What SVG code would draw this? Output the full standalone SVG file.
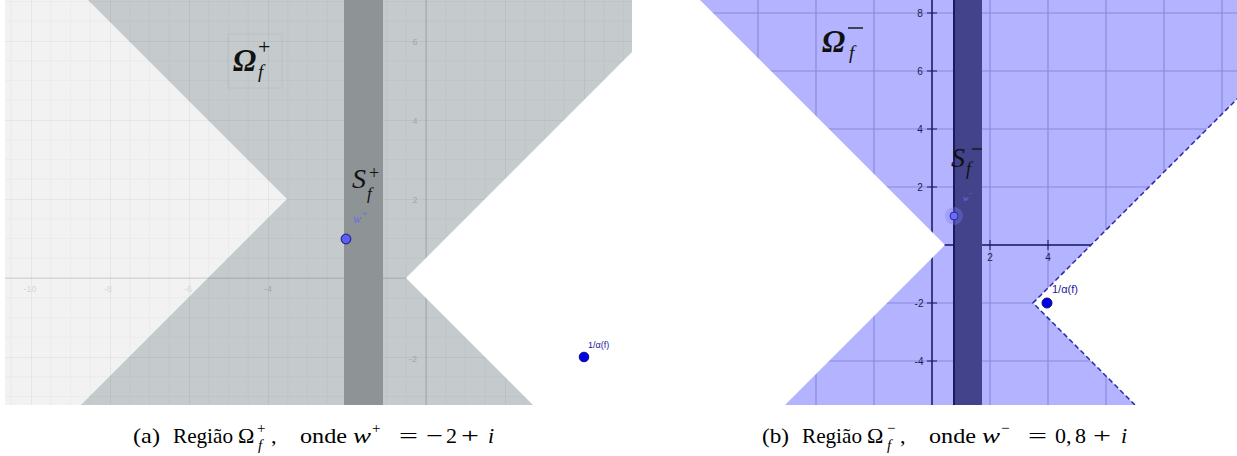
<svg xmlns="http://www.w3.org/2000/svg" width="1237" height="456" viewBox="0 0 1237 456">
<style>
.cap{font-family:"Liberation Serif","DejaVu Serif",serif;font-size:22px;fill:#000}
.capi{font-family:"Liberation Serif","DejaVu Serif",serif;font-size:22px;font-style:italic;fill:#000}
.sup{font-family:"Liberation Serif","DejaVu Serif",serif;font-size:15px;fill:#000}
.supi{font-family:"Liberation Serif","DejaVu Serif",serif;font-size:15px;font-style:italic;fill:#000}
.ax-a{font-family:"Liberation Sans",sans-serif;font-size:9px;fill:#a3a8ab;text-anchor:middle}
.ax-al{font-family:"Liberation Sans",sans-serif;font-size:9px;fill:#d6d6d6;text-anchor:middle}
.ax-b{font-family:"Liberation Sans",sans-serif;font-size:10px;fill:#1c1c50;text-anchor:middle}
.big{font-family:"Liberation Serif","DejaVu Serif",serif;font-style:italic;fill:#111}
.bigu{font-family:"Liberation Serif","DejaVu Serif",serif;fill:#111}
.pt-lbl{font-family:"Liberation Sans",sans-serif;fill:#1a1a9a}
</style>
<defs>
<clipPath id="clipA"><rect x="5" y="0" width="627" height="405"/></clipPath>
<clipPath id="clipB"><rect x="640" y="0" width="597" height="405"/></clipPath>
<pattern id="gridA" patternUnits="userSpaceOnUse" x="426" y="278" width="79" height="79">
<path d="M19.75 0V79M39.5 0V79M59.25 0V79M0 19.75H79M0 39.5H79M0 59.25H79" stroke="#000" stroke-opacity="0.022" stroke-width="1" fill="none"/>
<path d="M0.5 0V79M0 0.5H79" stroke="#000" stroke-opacity="0.05" stroke-width="1" fill="none"/>
</pattern>
</defs>
<rect width="1237" height="456" fill="#fff"/>

<g id="panel-a" clip-path="url(#clipA)">
<rect x="0" y="0" width="640" height="405" fill="#c5cacd"/>
<polygon points="0,0 88,0 287,199 81,405 0,405" fill="#f2f2f2"/>
<rect x="0" y="0" width="640" height="405" fill="url(#gridA)"/>
<line x1="0" y1="278" x2="640" y2="278" stroke="#000" stroke-opacity="0.12"/>
<line x1="426" y1="0" x2="426" y2="405" stroke="#000" stroke-opacity="0.16"/>
<rect x="344" y="0" width="39" height="405" fill="#8e9396"/>
<polygon points="406,278 684,0 700,0 700,405 533,405" fill="#fff"/>
<text class="ax-al" x="30" y="292">-10</text>
<text class="ax-al" x="108" y="292">-8</text>
<text class="ax-al" x="188" y="292">-6</text>
<text class="ax-a" x="268" y="292">-4</text>
<text class="ax-a" x="415" y="45">6</text>
<text class="ax-a" x="415" y="124">4</text>
<text class="ax-a" x="415" y="203">2</text>
<text class="ax-a" x="413" y="362">-2</text>
</g>

<g id="omega-plus-label">
<rect x="228" y="34" width="54" height="54" fill="none" stroke="#000" stroke-opacity="0.05"/>
<text class="big" x="233" y="71" font-size="31" font-weight="bold">Ω</text>
<text class="bigu" x="258" y="54" font-size="22">+</text>
<text class="big" x="258" y="78" font-size="19">f</text>
</g>

<g id="s-plus-label">
<text class="big" x="352" y="188" font-size="28">S</text>
<text class="bigu" x="369" y="179" font-size="18">+</text>
<text class="big" x="367" y="199" font-size="17">f</text>
</g>

<g id="point-w-plus">
<circle cx="346" cy="239" r="4.8" fill="#5d5dff" stroke="#2a2a7a" stroke-width="1.2"/>
<text x="353" y="223" font-family="Liberation Serif,DejaVu Serif,serif" font-style="italic" font-size="12" fill="#6a6ae0">w</text>
<text x="362" y="216" font-family="Liberation Serif,DejaVu Serif,serif" font-size="9" fill="#6a6ae0">+</text>
</g>

<g id="point-alpha-a">
<circle cx="584" cy="357" r="4.8" fill="#0000ee" stroke="#101060" stroke-width="1"/>
<text class="pt-lbl" x="588" y="348" font-size="9">1/α(f)</text>
</g>

<g id="panel-b" clip-path="url(#clipB)">
<rect x="640" y="0" width="597" height="405" fill="#b3b3ff"/>
<path d="M700 0V405M758 0V405M816 0V405M874 0V405M990 0V405M1048 0V405M1106 0V405M1164 0V405M1222 0V405M640 13H1237M640 71H1237M640 129H1237M640 187H1237M640 303H1237M640 361H1237" stroke="#8a8adc" stroke-width="1.2" fill="none"/>
<line x1="640" y1="245" x2="1237" y2="245" stroke="#14145e" stroke-width="1.5"/>
<line x1="932" y1="0" x2="932" y2="405" stroke="#14145e" stroke-width="1.5"/>
<path d="M927 13H937M927 71H937M927 129H937M927 187H937M927 303H937M927 361H937M990 240V250M1048 240V250M1106 240V250" stroke="#14145e" stroke-width="1" fill="none"/>
<rect x="953" y="0" width="29" height="405" fill="#43438b"/>
<line x1="954" y1="0" x2="954" y2="405" stroke="#1a1a5c" stroke-width="2"/>
<polygon points="630,0 700,0 945,245 785,405 630,405" fill="#fff"/>
<polygon points="1033,303 1237,99 1240,99 1240,405 1135,405" fill="#fff"/>
<polyline points="1240,96 1033,303 1135,405" fill="none" stroke="#2a2aa8" stroke-width="1.5" stroke-dasharray="5,3"/>
<text class="ax-b" x="920" y="17">8</text>
<text class="ax-b" x="920" y="75">6</text>
<text class="ax-b" x="920" y="133">4</text>
<text class="ax-b" x="920" y="191">2</text>
<text class="ax-b" x="919" y="307">-2</text>
<text class="ax-b" x="919" y="365">-4</text>
<text class="ax-b" x="990" y="261">2</text>
<text class="ax-b" x="1048" y="261">4</text>
</g>

<g id="omega-minus-label">
<text class="big" x="822" y="52" font-size="31" font-weight="bold">Ω</text>
<line x1="848" y1="28" x2="863" y2="28" stroke="#111" stroke-width="1.4"/>
<text class="big" x="849" y="59" font-size="19">f</text>
</g>

<g id="s-minus-label">
<text class="big" x="951" y="167" font-size="28">S</text>
<line x1="972" y1="149" x2="982" y2="149" stroke="#111" stroke-width="1.2"/>
<text class="big" x="966" y="175" font-size="18">f</text>
</g>

<g id="point-w-minus">
<circle cx="954" cy="216" r="9" fill="#7a7aff" fill-opacity="0.35"/>
<circle cx="954" cy="216" r="4" fill="#6b6bff" stroke="#2a2a8a" stroke-width="1"/>
<text x="963" y="201" font-family="Liberation Serif,DejaVu Serif,serif" font-style="italic" font-size="8" fill="#7070f0">w</text>
<text x="969" y="196" font-family="Liberation Serif,DejaVu Serif,serif" font-size="7" fill="#7070f0">−</text>
</g>

<g id="point-alpha-b">
<circle cx="1047" cy="303" r="5" fill="#0000ee" stroke="#101060" stroke-width="1"/>
<text class="pt-lbl" x="1052" y="293" font-size="11">1/α(f)</text>
</g>

<g id="caption-a">
<text class="cap" x="133" y="443" textLength="27" lengthAdjust="spacingAndGlyphs">(a)</text>
<text class="cap" x="173" y="443" textLength="60" lengthAdjust="spacingAndGlyphs">Região</text>
<text class="cap" x="238" y="443">Ω</text>
<text class="sup" x="257" y="433">+</text>
<text class="supi" x="258" y="450">f</text>
<text class="cap" x="271" y="443">,</text>
<text class="cap" x="300" y="443" textLength="47" lengthAdjust="spacingAndGlyphs">onde</text>
<text class="capi" x="353" y="443" textLength="18" lengthAdjust="spacingAndGlyphs">w</text>
<text class="sup" x="372" y="433">+</text>
<text class="cap" x="399" y="443" textLength="19" lengthAdjust="spacingAndGlyphs">=</text>
<text class="cap" x="426" y="443" textLength="17" lengthAdjust="spacingAndGlyphs">−</text>
<text class="cap" x="446" y="443">2</text>
<text class="cap" x="461" y="443" textLength="18" lengthAdjust="spacingAndGlyphs">+</text>
<text class="capi" x="488" y="443">i</text>
</g>

<g id="caption-b">
<text class="cap" x="762" y="443" textLength="27" lengthAdjust="spacingAndGlyphs">(b)</text>
<text class="cap" x="802" y="443" textLength="60" lengthAdjust="spacingAndGlyphs">Região</text>
<text class="cap" x="867" y="443">Ω</text>
<text class="sup" x="887" y="433">−</text>
<text class="supi" x="887" y="450">f</text>
<text class="cap" x="900" y="443">,</text>
<text class="cap" x="929" y="443" textLength="47" lengthAdjust="spacingAndGlyphs">onde</text>
<text class="capi" x="982" y="443" textLength="18" lengthAdjust="spacingAndGlyphs">w</text>
<text class="sup" x="1001" y="433">−</text>
<text class="cap" x="1028" y="443" textLength="19" lengthAdjust="spacingAndGlyphs">=</text>
<text class="cap" x="1055" y="443">0,</text>
<text class="cap" x="1075" y="443">8</text>
<text class="cap" x="1093" y="443" textLength="18" lengthAdjust="spacingAndGlyphs">+</text>
<text class="capi" x="1121" y="443">i</text>
</g>
</svg>
